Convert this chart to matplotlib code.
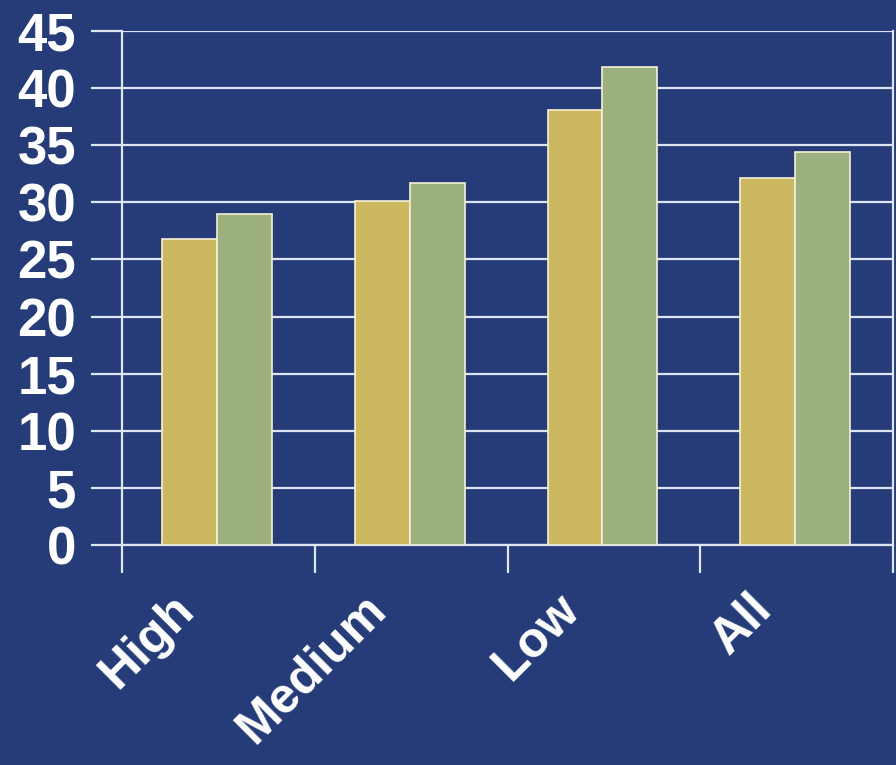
import matplotlib
matplotlib.use("Agg")
import matplotlib.pyplot as plt
import matplotlib.transforms as mtransforms
import numpy as np

categories = ["High", "Medium", "Low", "All"]
series_a = [26.8, 30.1, 38.1, 32.1]
series_b = [29.0, 31.7, 41.8, 34.4]
yticks = [0, 5, 10, 15, 20, 25, 30, 35, 40, 45]

BG = "#253c78"
YEL = "#cdb862"
GRN = "#9cb07e"
LINE = "#dde4f2"

plt.rcParams['font.family'] = ['Liberation Sans', 'DejaVu Sans']

fig = plt.figure(figsize=(8.96, 7.65), dpi=100, facecolor=BG)
ax = fig.add_axes([0.136, 0.2876, 0.861, 0.672], facecolor=BG)

x = np.arange(len(categories))
w = 0.285
ax.bar(x - 0.1425 - 0.008, series_a, width=w, color=YEL, edgecolor="#f4f0d4", linewidth=1.2, zorder=3)
ax.bar(x + 0.1425 - 0.008, series_b, width=w, color=GRN, edgecolor="#f4f0d4", linewidth=1.2, zorder=3)

ax.set_xlim(-0.5, len(categories) - 0.5)
ax.set_ylim(0, 45)
ax.set_yticks(yticks)
ax.set_yticklabels([str(v) for v in yticks], fontsize=38, fontweight='bold', color='white')
ax.yaxis.grid(True, color=LINE, linewidth=1.6, zorder=1)
ax.tick_params(axis='y', length=22, width=1.6, color=LINE, pad=11)

# category boundary ticks (major) and labels at centres (minor)
ax.set_xticks(np.arange(-0.5, len(categories)), labels=[""] * (len(categories) + 1))
ax.tick_params(axis='x', which='major', length=20, width=1.6, color=LINE)
ax.set_xticks(x, minor=True)
ax.set_xticklabels(categories, minor=True, rotation=45, ha='right', va='top',
                   rotation_mode='anchor', fontsize=36, fontweight='bold', color='white')
ax.tick_params(axis='x', which='minor', length=0, pad=32)

offset = mtransforms.ScaledTranslation(-48 / 100, 4 / 100, fig.dpi_scale_trans)
for lbl in ax.get_xticklabels(minor=True):
    lbl.set_transform(lbl.get_transform() + offset)

for s in ['left', 'right', 'bottom', 'top']:
    ax.spines[s].set_color(LINE)
    ax.spines[s].set_linewidth(1.6)
ax.spines['top'].set_visible(False)

fig.savefig("out.png", dpi=100, facecolor=BG)
